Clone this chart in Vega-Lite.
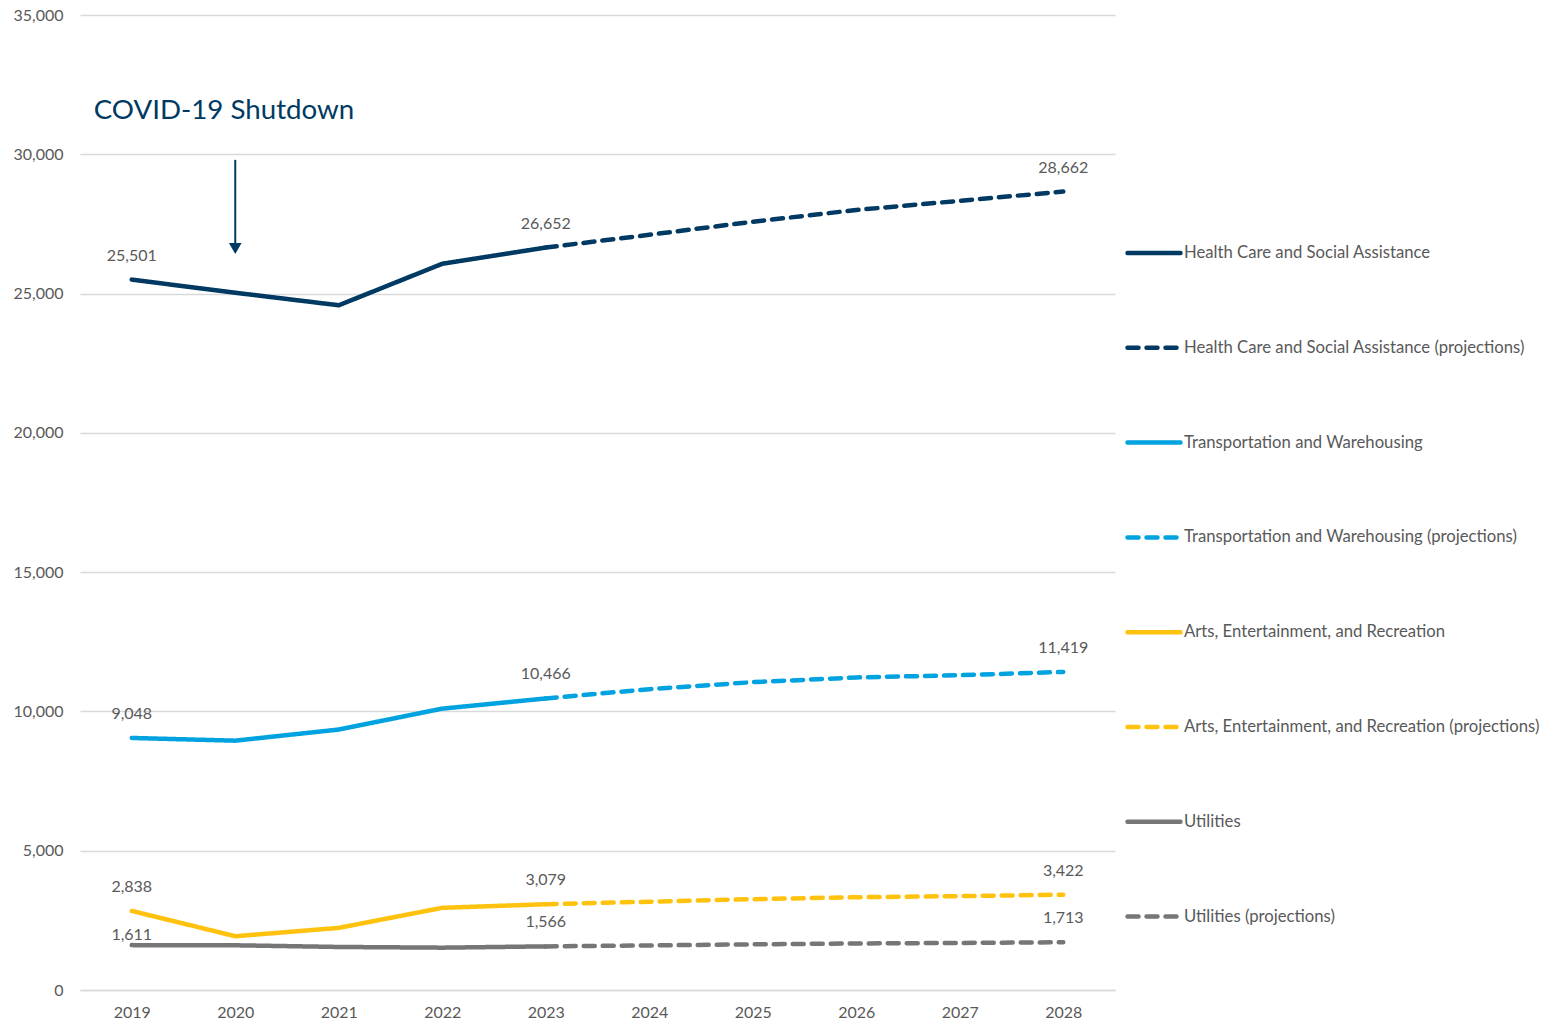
{
  "$schema": "https://vega.github.io/schema/vega-lite/v6.json",
  "width": 1035,
  "height": 975,
  "autosize": {"type": "none"},
  "padding": {"left": 80, "top": 15, "right": 442, "bottom": 34},
  "background": "white",
  "config": {
    "font": "Lato",
    "view": {"stroke": null},
    "axis": {"labelFont": "Lato", "labelColor": "#595959", "labelFontSize": 16, "ticks": false, "title": null}
  },
  "data": {
    "values": [
      {"series": "Health Care and Social Assistance", "year": "2019", "value": 25501},
      {"series": "Health Care and Social Assistance", "year": "2020", "value": 25030},
      {"series": "Health Care and Social Assistance", "year": "2021", "value": 24580},
      {"series": "Health Care and Social Assistance", "year": "2022", "value": 26070},
      {"series": "Health Care and Social Assistance", "year": "2023", "value": 26652},
      {"series": "Health Care and Social Assistance (projections)", "year": "2023", "value": 26652},
      {"series": "Health Care and Social Assistance (projections)", "year": "2024", "value": 27110},
      {"series": "Health Care and Social Assistance (projections)", "year": "2025", "value": 27580},
      {"series": "Health Care and Social Assistance (projections)", "year": "2026", "value": 28000},
      {"series": "Health Care and Social Assistance (projections)", "year": "2027", "value": 28330},
      {"series": "Health Care and Social Assistance (projections)", "year": "2028", "value": 28662},
      {"series": "Transportation and Warehousing", "year": "2019", "value": 9048},
      {"series": "Transportation and Warehousing", "year": "2020", "value": 8950},
      {"series": "Transportation and Warehousing", "year": "2021", "value": 9350},
      {"series": "Transportation and Warehousing", "year": "2022", "value": 10100},
      {"series": "Transportation and Warehousing", "year": "2023", "value": 10466},
      {"series": "Transportation and Warehousing (projections)", "year": "2023", "value": 10466},
      {"series": "Transportation and Warehousing (projections)", "year": "2024", "value": 10800},
      {"series": "Transportation and Warehousing (projections)", "year": "2025", "value": 11050},
      {"series": "Transportation and Warehousing (projections)", "year": "2026", "value": 11220},
      {"series": "Transportation and Warehousing (projections)", "year": "2027", "value": 11300},
      {"series": "Transportation and Warehousing (projections)", "year": "2028", "value": 11419},
      {"series": "Arts, Entertainment, and Recreation", "year": "2019", "value": 2838},
      {"series": "Arts, Entertainment, and Recreation", "year": "2020", "value": 1930},
      {"series": "Arts, Entertainment, and Recreation", "year": "2021", "value": 2230},
      {"series": "Arts, Entertainment, and Recreation", "year": "2022", "value": 2950},
      {"series": "Arts, Entertainment, and Recreation", "year": "2023", "value": 3079},
      {"series": "Arts, Entertainment, and Recreation (projections)", "year": "2023", "value": 3079},
      {"series": "Arts, Entertainment, and Recreation (projections)", "year": "2024", "value": 3170},
      {"series": "Arts, Entertainment, and Recreation (projections)", "year": "2025", "value": 3260},
      {"series": "Arts, Entertainment, and Recreation (projections)", "year": "2026", "value": 3330},
      {"series": "Arts, Entertainment, and Recreation (projections)", "year": "2027", "value": 3370},
      {"series": "Arts, Entertainment, and Recreation (projections)", "year": "2028", "value": 3422},
      {"series": "Utilities", "year": "2019", "value": 1611},
      {"series": "Utilities", "year": "2020", "value": 1605},
      {"series": "Utilities", "year": "2021", "value": 1545},
      {"series": "Utilities", "year": "2022", "value": 1520},
      {"series": "Utilities", "year": "2023", "value": 1566},
      {"series": "Utilities (projections)", "year": "2023", "value": 1566},
      {"series": "Utilities (projections)", "year": "2024", "value": 1600},
      {"series": "Utilities (projections)", "year": "2025", "value": 1640},
      {"series": "Utilities (projections)", "year": "2026", "value": 1670},
      {"series": "Utilities (projections)", "year": "2027", "value": 1690},
      {"series": "Utilities (projections)", "year": "2028", "value": 1713}
    ]
  },
  "encoding": {
    "x": {
      "field": "year", "type": "ordinal",
      "scale": {"type": "point", "padding": 0.5},
      "axis": {"labelAngle": 0, "labelPadding": 14, "domain": true, "domainColor": "#d9d9d9", "domainWidth": 1.5, "grid": false}
    },
    "y": {
      "field": "value", "type": "quantitative",
      "scale": {"domain": [0, 35000], "nice": false, "zero": true},
      "axis": {"values": [0, 5000, 10000, 15000, 20000, 25000, 30000, 35000], "format": ",d", "domain": false, "grid": true, "gridColor": "#d9d9d9", "gridWidth": 1.5, "labelPadding": 17}
    }
  },
  "layer": [
    {
      "mark": {"type": "line", "strokeWidth": 4.5, "strokeCap": "round", "strokeJoin": "round"},
      "encoding": {
        "color": {
          "field": "series", "type": "nominal",
          "scale": {
            "domain": ["Health Care and Social Assistance", "Health Care and Social Assistance (projections)", "Transportation and Warehousing", "Transportation and Warehousing (projections)", "Arts, Entertainment, and Recreation", "Arts, Entertainment, and Recreation (projections)", "Utilities", "Utilities (projections)"],
            "range": ["#003A63", "#003A63", "#00A3E0", "#00A3E0", "#FFC20E", "#FFC20E", "#767676", "#767676"]
          },
          "legend": {
            "title": null, "orient": "none", "legendX": 1045, "legendY": 209,
            "symbolType": "stroke", "symbolSize": 2809, "symbolStrokeWidth": 4.5,
            "labelFont": "Lato", "labelFontSize": 16.7, "labelColor": "#595959", "labelOffset": 1,
            "rowPadding": 56.8, "labelLimit": 500,
            "encode": {"symbols": {"update": {"strokeCap": {"value": "round"}}}}
          }
        },
        "strokeDash": {
          "field": "series", "type": "nominal",
          "scale": {
            "domain": ["Health Care and Social Assistance", "Health Care and Social Assistance (projections)", "Transportation and Warehousing", "Transportation and Warehousing (projections)", "Arts, Entertainment, and Recreation", "Arts, Entertainment, and Recreation (projections)", "Utilities", "Utilities (projections)"],
            "range": [[1, 0], [11, 8], [1, 0], [11, 8], [1, 0], [11, 8], [1, 0], [11, 8]]
          },
          "legend": {
            "title": null, "orient": "none", "legendX": 1045, "legendY": 209,
            "symbolType": "stroke", "symbolSize": 2809, "symbolStrokeWidth": 4.5,
            "labelFont": "Lato", "labelFontSize": 16.7, "labelColor": "#595959", "labelOffset": 1,
            "rowPadding": 56.8, "labelLimit": 500,
            "encode": {"symbols": {"update": {"strokeCap": {"value": "round"}}}}
          }
        }
      }
    },
    {
      "transform": [
        {"filter": "(indexof(datum.series, 'projections') < 0 && (datum.year == '2019' || datum.year == '2023') && !(datum.series == 'Utilities' && datum.year == '2019')) || (indexof(datum.series, 'projections') >= 0 && datum.year == '2028')"}
      ],
      "mark": {"type": "text", "dy": -24, "fontSize": 16, "color": "#595959", "font": "Lato"},
      "encoding": {"text": {"field": "value", "type": "quantitative", "format": ",d"}}
    },
    {
      "transform": [{"filter": "datum.series == 'Utilities' && datum.year == '2019'"}],
      "mark": {"type": "text", "dy": -10, "fontSize": 16, "color": "#595959", "font": "Lato"},
      "encoding": {"text": {"field": "value", "type": "quantitative", "format": ",d"}}
    },
    {
      "data": {"values": [{"year": "2020", "top": 29800, "bottom": 26500}]},
      "mark": {"type": "rule", "color": "#003A63", "strokeWidth": 2},
      "encoding": {
        "x": {"field": "year", "type": "ordinal"},
        "y": {"field": "top", "type": "quantitative"},
        "y2": {"field": "bottom"}
      }
    },
    {
      "data": {"values": [{"year": "2020", "tip": 26620}]},
      "mark": {"type": "point", "shape": "triangle-down", "filled": true, "color": "#003A63", "size": 160, "opacity": 1},
      "encoding": {
        "x": {"field": "year", "type": "ordinal"},
        "y": {"field": "tip", "type": "quantitative"}
      }
    },
    {
      "data": {"values": [{"year": "2019", "pos": 31550, "note": "COVID-19 Shutdown"}]},
      "mark": {"type": "text", "align": "left", "baseline": "middle", "dx": -38, "fontSize": 27.7, "color": "#003A63", "font": "Lato"},
      "encoding": {
        "x": {"field": "year", "type": "ordinal"},
        "y": {"field": "pos", "type": "quantitative"},
        "text": {"field": "note"}
      }
    }
  ]
}
